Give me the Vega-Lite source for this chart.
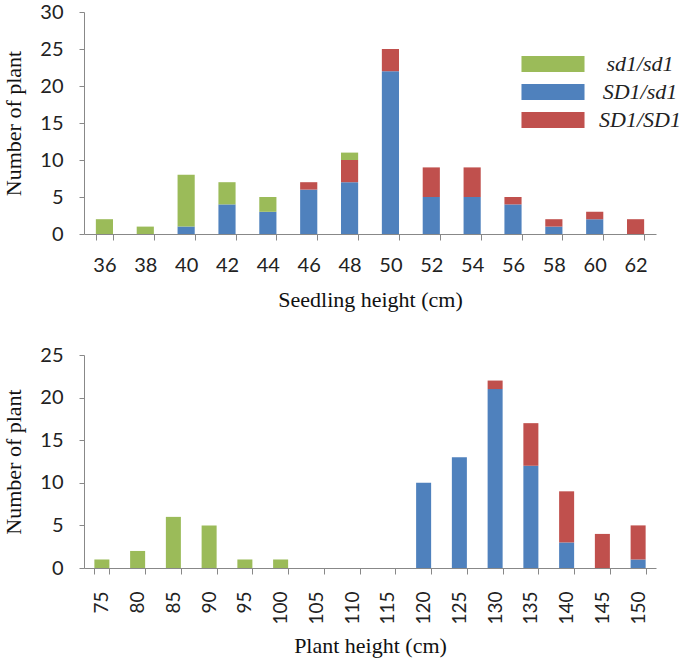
{
  "$schema": "https://vega.github.io/schema/vega-lite/v6.json",
  "background": "white",
  "padding": {"left": 2, "top": 2, "right": 20, "bottom": 2},
  "spacing": 35,
  "config": {
    "view": {"stroke": null},
    "axis": {
      "labelFont": "Lato",
      "labelFontSize": 20,
      "labelColor": "#222",
      "titleFont": "Liberation Serif",
      "titleFontSize": 22,
      "titleFontWeight": "normal",
      "titleColor": "#111",
      "domainColor": "#888",
      "tickColor": "#888",
      "grid": false
    }
  },
  "resolve": {"scale": {"color": "independent"}, "legend": {"color": "independent"}},
  "vconcat": [
    {
      "width": 572,
      "height": 222,
      "data": {"values": [
        {"height": 36, "genotype": "sd1/sd1", "count": 2},
        {"height": 38, "genotype": "sd1/sd1", "count": 1},
        {"height": 40, "genotype": "SD1/sd1", "count": 1},
        {"height": 40, "genotype": "sd1/sd1", "count": 7},
        {"height": 42, "genotype": "SD1/sd1", "count": 4},
        {"height": 42, "genotype": "sd1/sd1", "count": 3},
        {"height": 44, "genotype": "SD1/sd1", "count": 3},
        {"height": 44, "genotype": "sd1/sd1", "count": 2},
        {"height": 46, "genotype": "SD1/sd1", "count": 6},
        {"height": 46, "genotype": "SD1/SD1", "count": 1},
        {"height": 48, "genotype": "SD1/sd1", "count": 7},
        {"height": 48, "genotype": "SD1/SD1", "count": 3},
        {"height": 48, "genotype": "sd1/sd1", "count": 1},
        {"height": 50, "genotype": "SD1/sd1", "count": 22},
        {"height": 50, "genotype": "SD1/SD1", "count": 3},
        {"height": 52, "genotype": "SD1/sd1", "count": 5},
        {"height": 52, "genotype": "SD1/SD1", "count": 4},
        {"height": 54, "genotype": "SD1/sd1", "count": 5},
        {"height": 54, "genotype": "SD1/SD1", "count": 4},
        {"height": 56, "genotype": "SD1/sd1", "count": 4},
        {"height": 56, "genotype": "SD1/SD1", "count": 1},
        {"height": 58, "genotype": "SD1/sd1", "count": 1},
        {"height": 58, "genotype": "SD1/SD1", "count": 1},
        {"height": 60, "genotype": "SD1/sd1", "count": 2},
        {"height": 60, "genotype": "SD1/SD1", "count": 1},
        {"height": 62, "genotype": "SD1/SD1", "count": 2}
      ]},
      "transform": [
        {"calculate": "indexof(['SD1/sd1','SD1/SD1','sd1/sd1'], datum.genotype)", "as": "stackOrder"}
      ],
      "mark": {"type": "bar"},
      "encoding": {
        "x": {
          "field": "height", "type": "ordinal",
          "scale": {"domain": [36, 38, 40, 42, 44, 46, 48, 50, 52, 54, 56, 58, 60, 62], "paddingInner": 0.58, "paddingOuter": 0.29},
          "axis": {"title": "Seedling height (cm)", "labelAngle": 0, "tickBand": "extent", "tickSize": 6, "labelPadding": 15, "titlePadding": 14}
        },
        "y": {
          "field": "count", "type": "quantitative", "stack": "zero",
          "scale": {"domain": [0, 30]},
          "axis": {"title": "Number of plant", "values": [0, 5, 10, 15, 20, 25, 30], "tickSize": 5, "labelPadding": 16, "titlePadding": 14}
        },
        "color": {
          "field": "genotype", "type": "nominal",
          "scale": {"domain": ["sd1/sd1", "SD1/sd1", "SD1/SD1"], "range": ["#9BBB59", "#4F81BD", "#C0504D"]},
          "legend": {
            "title": null,
            "orient": "none",
            "legendX": 458,
            "legendY": 41,
            "symbolType": "M-3.94,-1H3.94V1H-3.94Z",
            "symbolSize": 256,
            "symbolStrokeWidth": 0,
            "labelFont": "Liberation Serif",
            "labelFontStyle": "italic",
            "labelFontSize": 22,
            "labelColor": "#222",
            "labelAlign": "center",
            "labelOffset": 76,
            "rowPadding": 6,
            "labelLimit": 200
          }
        },
        "order": {"field": "stackOrder"}
      }
    },
    {
      "width": 572,
      "height": 213,
      "data": {"values": [
        {"height": 75, "genotype": "sd1/sd1", "count": 1},
        {"height": 80, "genotype": "sd1/sd1", "count": 2},
        {"height": 85, "genotype": "sd1/sd1", "count": 6},
        {"height": 90, "genotype": "sd1/sd1", "count": 5},
        {"height": 95, "genotype": "sd1/sd1", "count": 1},
        {"height": 100, "genotype": "sd1/sd1", "count": 1},
        {"height": 120, "genotype": "SD1/sd1", "count": 10},
        {"height": 125, "genotype": "SD1/sd1", "count": 13},
        {"height": 130, "genotype": "SD1/sd1", "count": 21},
        {"height": 130, "genotype": "SD1/SD1", "count": 1},
        {"height": 135, "genotype": "SD1/sd1", "count": 12},
        {"height": 135, "genotype": "SD1/SD1", "count": 5},
        {"height": 140, "genotype": "SD1/sd1", "count": 3},
        {"height": 140, "genotype": "SD1/SD1", "count": 6},
        {"height": 145, "genotype": "SD1/SD1", "count": 4},
        {"height": 150, "genotype": "SD1/sd1", "count": 1},
        {"height": 150, "genotype": "SD1/SD1", "count": 4}
      ]},
      "transform": [
        {"calculate": "indexof(['SD1/sd1','SD1/SD1','sd1/sd1'], datum.genotype)", "as": "stackOrder"}
      ],
      "mark": {"type": "bar"},
      "encoding": {
        "x": {
          "field": "height", "type": "ordinal",
          "scale": {"domain": [75, 80, 85, 90, 95, 100, 105, 110, 115, 120, 125, 130, 135, 140, 145, 150], "paddingInner": 0.58, "paddingOuter": 0.29},
          "axis": {"title": "Plant height (cm)", "labelAngle": -90, "tickBand": "extent", "tickSize": 6, "labelPadding": 17, "titlePadding": 11, "labelFontSize": 19}
        },
        "y": {
          "field": "count", "type": "quantitative", "stack": "zero",
          "scale": {"domain": [0, 25]},
          "axis": {"title": "Number of plant", "values": [0, 5, 10, 15, 20, 25], "tickSize": 5, "labelPadding": 16, "titlePadding": 14}
        },
        "color": {
          "field": "genotype", "type": "nominal",
          "scale": {"domain": ["sd1/sd1", "SD1/sd1", "SD1/SD1"], "range": ["#9BBB59", "#4F81BD", "#C0504D"]},
          "legend": null
        },
        "order": {"field": "stackOrder"}
      }
    }
  ]
}
